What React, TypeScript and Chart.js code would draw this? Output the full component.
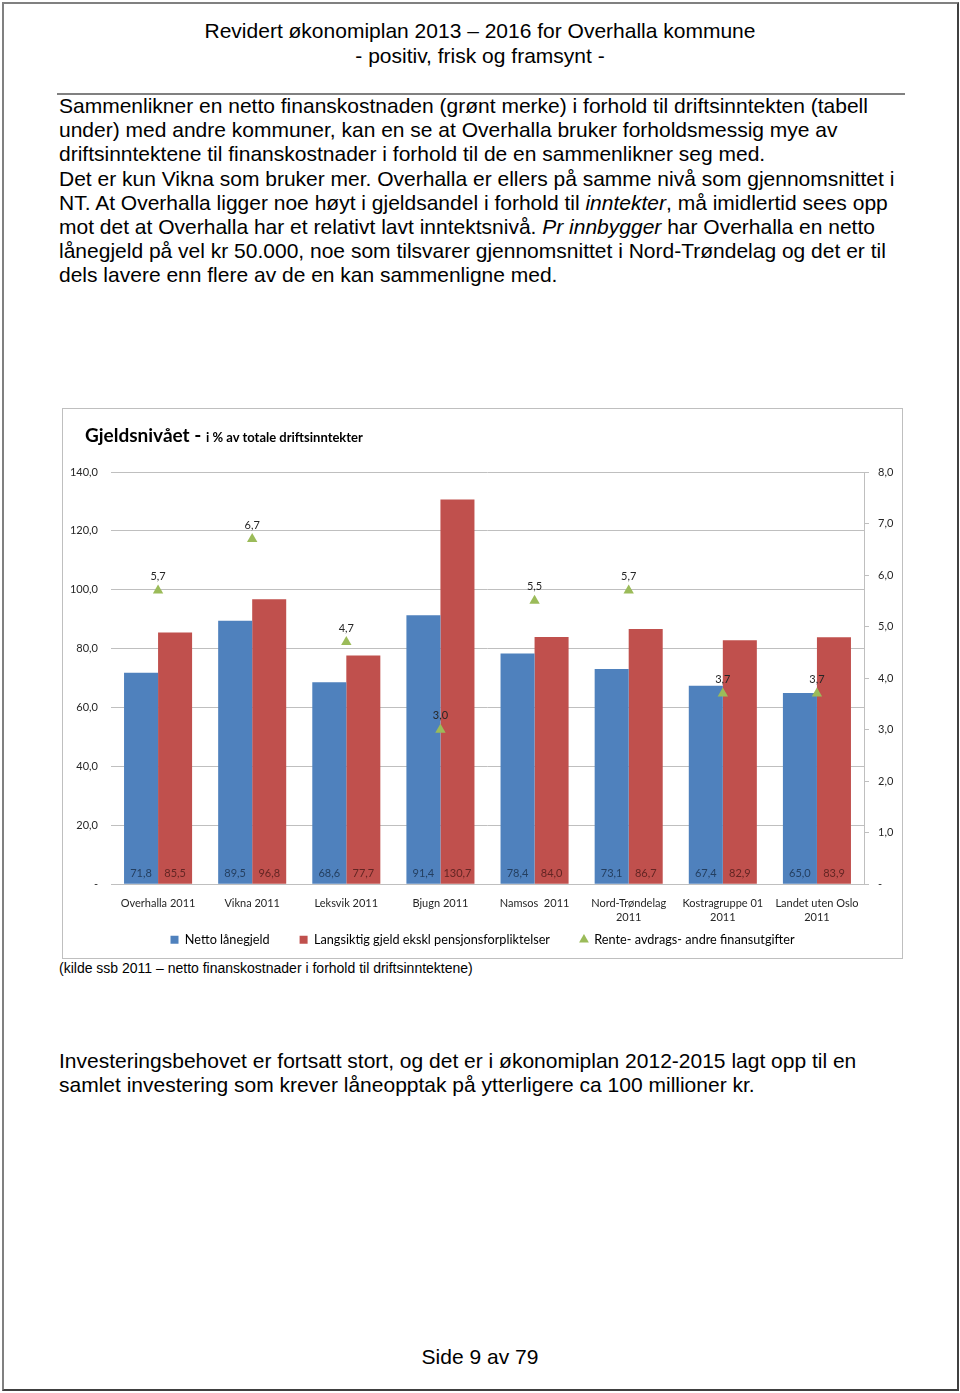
import React, { useEffect, useRef } from "react";
import { Chart, registerables } from "chart.js";

Chart.register(...registerables);

const categories: (string | string[])[] = [
  "Overhalla 2011",
  "Vikna 2011",
  "Leksvik 2011",
  "Bjugn 2011",
  "Namsos  2011",
  ["Nord-Trøndelag", "2011"],
  ["Kostragruppe 01", "2011"],
  ["Landet uten Oslo", "2011"],
];
const nettoLanegjeld = [71.8, 89.5, 68.6, 91.4, 78.4, 73.1, 67.4, 65.0];
const langsiktigGjeld = [85.5, 96.8, 77.7, 130.7, 84.0, 86.7, 82.9, 83.9];
const renteAvdrag = [5.7, 6.7, 4.7, 3.0, 5.5, 5.7, 3.7, 3.7];
const seriesNames = [
  "Netto lånegjeld",
  "Langsiktig gjeld ekskl pensjonsforpliktelser",
  "Rente- avdrags- andre finansutgifter",
];
const leftTicks = { min: 0, max: 140, step: 20 };
const rightTicks = { min: 0, max: 8, step: 1 };

const bodyLines: React.ReactNode[] = [
  "Sammenlikner en netto finanskostnaden (grønt merke) i forhold til driftsinntekten (tabell",
  "under) med andre kommuner, kan en se at Overhalla bruker forholdsmessig mye av",
  "driftsinntektene til finanskostnader i forhold til de en sammenlikner seg med.",
  "Det er kun Vikna som bruker mer. Overhalla er ellers på samme nivå som gjennomsnittet i",
  <>
    NT. At Overhalla ligger noe høyt i gjeldsandel i forhold til <i>inntekter</i>, må imidlertid sees opp
  </>,
  <>
    mot det at Overhalla har et relativt lavt inntektsnivå. <i>Pr innbygger</i> har Overhalla en netto
  </>,
  "lånegjeld på vel kr 50.000, noe som tilsvarer gjennomsnittet i Nord-Trøndelag og det er til",
  "dels lavere enn flere av de en kan sammenligne med.",
];
const bodyLines2 = [
  "Investeringsbehovet er fortsatt stort, og det er i økonomiplan 2012-2015 lagt opp til en",
  "samlet investering som krever låneopptak på ytterligere ca 100 millioner kr.",
];

const fmt = (v: number) => (v === 0 ? "-" : v.toFixed(1).replace(".", ","));

const BLUE = "#4F81BD";
const RED = "#C0504D";
const GREEN = "#9BBB59";
const GRID = "#BFBFBF";
const FONT = "Lato, 'Noto Sans', sans-serif";

const valueLabels = {
  id: "valueLabels",
  afterDatasetsDraw(chart: any) {
    const ctx = chart.ctx;
    ctx.save();
    ctx.font = `11px ${FONT}`;
    ctx.textAlign = "center";
    ctx.textBaseline = "middle";
    const colors = ["#243F60", "#632523", "#262626"];
    chart.data.datasets.forEach((ds: any, i: number) => {
      const meta = chart.getDatasetMeta(i);
      meta.data.forEach((el: any, j: number) => {
        const v = ds.data[j] as number;
        ctx.fillStyle = colors[i];
        if (meta.type === "bar") {
          ctx.fillText(fmt(v), el.x, el.base - 10);
        } else {
          ctx.fillText(fmt(v), el.x, el.y - 14);
        }
      });
    });
    ctx.restore();
  },
};

function ChartBox() {
  const ref = useRef<HTMLCanvasElement | null>(null);
  useEffect(() => {
    if (!ref.current) return;
    const chart = new Chart(ref.current, {
      type: "bar",
      data: {
        labels: categories as any,
        datasets: [
          {
            label: seriesNames[0],
            data: nettoLanegjeld,
            backgroundColor: BLUE,
            yAxisID: "y",
            order: 1,
            categoryPercentage: 0.723,
            barPercentage: 1,
          } as any,
          {
            label: seriesNames[1],
            data: langsiktigGjeld,
            backgroundColor: RED,
            yAxisID: "y",
            order: 1,
            categoryPercentage: 0.723,
            barPercentage: 1,
          } as any,
          {
            type: "line",
            label: seriesNames[2],
            data: renteAvdrag,
            yAxisID: "y1",
            showLine: false,
            pointStyle: "triangle",
            pointRadius: 6,
            pointBorderWidth: 0,
            backgroundColor: GREEN,
            borderColor: GREEN,
            order: 0,
          } as any,
        ],
      },
      options: {
        animation: false,
        responsive: false,
        devicePixelRatio: 1,
        layout: { padding: { top: 63, left: 0, right: 0, bottom: 2 } },
        plugins: {
          tooltip: { enabled: false },
          title: { display: false },
          legend: {
            position: "bottom",
            labels: {
              usePointStyle: true,
              boxWidth: 8,
              boxHeight: 8,
              padding: 30,
              color: "#000",
              font: { family: FONT, size: 12.7 },
              sort: (a: any, b: any) => a.datasetIndex - b.datasetIndex,
              generateLabels: (chart: any) => {
                const items = (Chart.defaults.plugins.legend.labels as any).generateLabels(chart);
                return items.map((it: any) => ({
                  ...it,
                  pointStyle: it.datasetIndex === 2 ? "triangle" : "rect",
                  lineWidth: 0,
                  strokeStyle: it.fillStyle,
                }));
              },
            },
          },
        },
        scales: {
          x: {
            grid: { display: false, drawTicks: false },
            border: { display: true, color: GRID, width: 1 },
            ticks: {
              autoSkip: false,
              maxRotation: 0,
              minRotation: 0,
              padding: 12,
              color: "#262626",
              font: { family: FONT, size: 11, lineHeight: 1.27 },
            },
            afterFit: (s: any) => {
              s.height = 19;
              // let the two-line category labels extend below the (short) axis box
              s._computeLabelArea = () => undefined;
            },
          },
          y: {
            position: "left",
            min: leftTicks.min,
            max: leftTicks.max,
            grid: { color: GRID, drawTicks: false, lineWidth: 1 },
            border: { display: false },
            ticks: {
              stepSize: leftTicks.step,
              padding: 13,
              color: "#262626",
              font: { family: FONT, size: 11 },
              callback: (v: any) => fmt(Number(v)),
            },
            afterFit: (s: any) => {
              s.width = 48;
            },
          },
          y1: {
            position: "right",
            min: rightTicks.min,
            max: rightTicks.max,
            grid: { drawOnChartArea: false, drawTicks: true, tickLength: 5, color: GRID },
            border: { display: true, color: GRID, width: 1 },
            ticks: {
              stepSize: rightTicks.step,
              padding: 9,
              color: "#262626",
              font: { family: FONT, size: 11 },
              callback: (v: any) => fmt(Number(v)),
            },
            afterFit: (s: any) => {
              s.width = 38;
            },
          },
        },
      } as any,
      plugins: [valueLabels],
    });
    return () => chart.destroy();
  }, []);
  return (
    <div
      style={{
        position: "absolute",
        left: 62,
        top: 408,
        width: 839,
        height: 549,
        border: "1px solid #BFBFBF",
        background: "#fff",
      }}
    >
      <canvas ref={ref} width={839} height={549} style={{ display: "block", width: 839, height: 549 }} />
      <div
        style={{
          position: "absolute",
          left: 22,
          top: 13,
          fontFamily: FONT,
          fontWeight: 700,
          whiteSpace: "nowrap",
          color: "#000",
          lineHeight: "26px",
        }}
      >
        <span style={{ fontSize: 19 }}>Gjeldsnivået - </span>
        <span style={{ fontSize: 13 }}>i % av totale driftsinntekter</span>
      </div>
    </div>
  );
}

export default function App() {
  const sans = "'Liberation Sans', Arial, sans-serif";
  return (
    <div
      style={{
        position: "absolute",
        left: 0,
        top: 0,
        width: 960,
        height: 1393,
        background: "#fff",
        overflow: "hidden",
        fontFamily: sans,
        color: "#000",
      }}
    >
      <div
        style={{
          position: "absolute",
          left: 2,
          top: 2,
          width: 953,
          height: 1385,
          borderTop: "2px solid #808080",
          borderLeft: "2px solid #808080",
          borderRight: "2px solid #404040",
          borderBottom: "2px solid #404040",
        }}
      />
      <div style={{ position: "absolute", left: 0, width: 960, top: 18, textAlign: "center", fontSize: 21, lineHeight: "25px" }}>
        Revidert økonomiplan 2013 – 2016 for Overhalla kommune
        <br />- positiv, frisk og framsynt -
      </div>
      <div style={{ position: "absolute", left: 57, top: 93, width: 848, height: 2, background: "#808080" }} />
      {bodyLines.map((l, i) => (
        <div
          key={i}
          style={{ position: "absolute", left: 59, top: 94 + i * 24.2, fontSize: 21, lineHeight: "24px", whiteSpace: "nowrap" }}
        >
          {l}
        </div>
      ))}
      <ChartBox />
      <div style={{ position: "absolute", left: 59, top: 960, fontSize: 14, lineHeight: "16px", whiteSpace: "nowrap" }}>
        (kilde ssb 2011 – netto finanskostnader i forhold til driftsinntektene)
      </div>
      {bodyLines2.map((l, i) => (
        <div
          key={i}
          style={{ position: "absolute", left: 59, top: 1049 + i * 24.2, fontSize: 21, lineHeight: "24px", whiteSpace: "nowrap" }}
        >
          {l}
        </div>
      ))}
      <div style={{ position: "absolute", left: 0, width: 960, top: 1345, textAlign: "center", fontSize: 21, lineHeight: "24px" }}>
        Side 9 av 79
      </div>
    </div>
  );
}
